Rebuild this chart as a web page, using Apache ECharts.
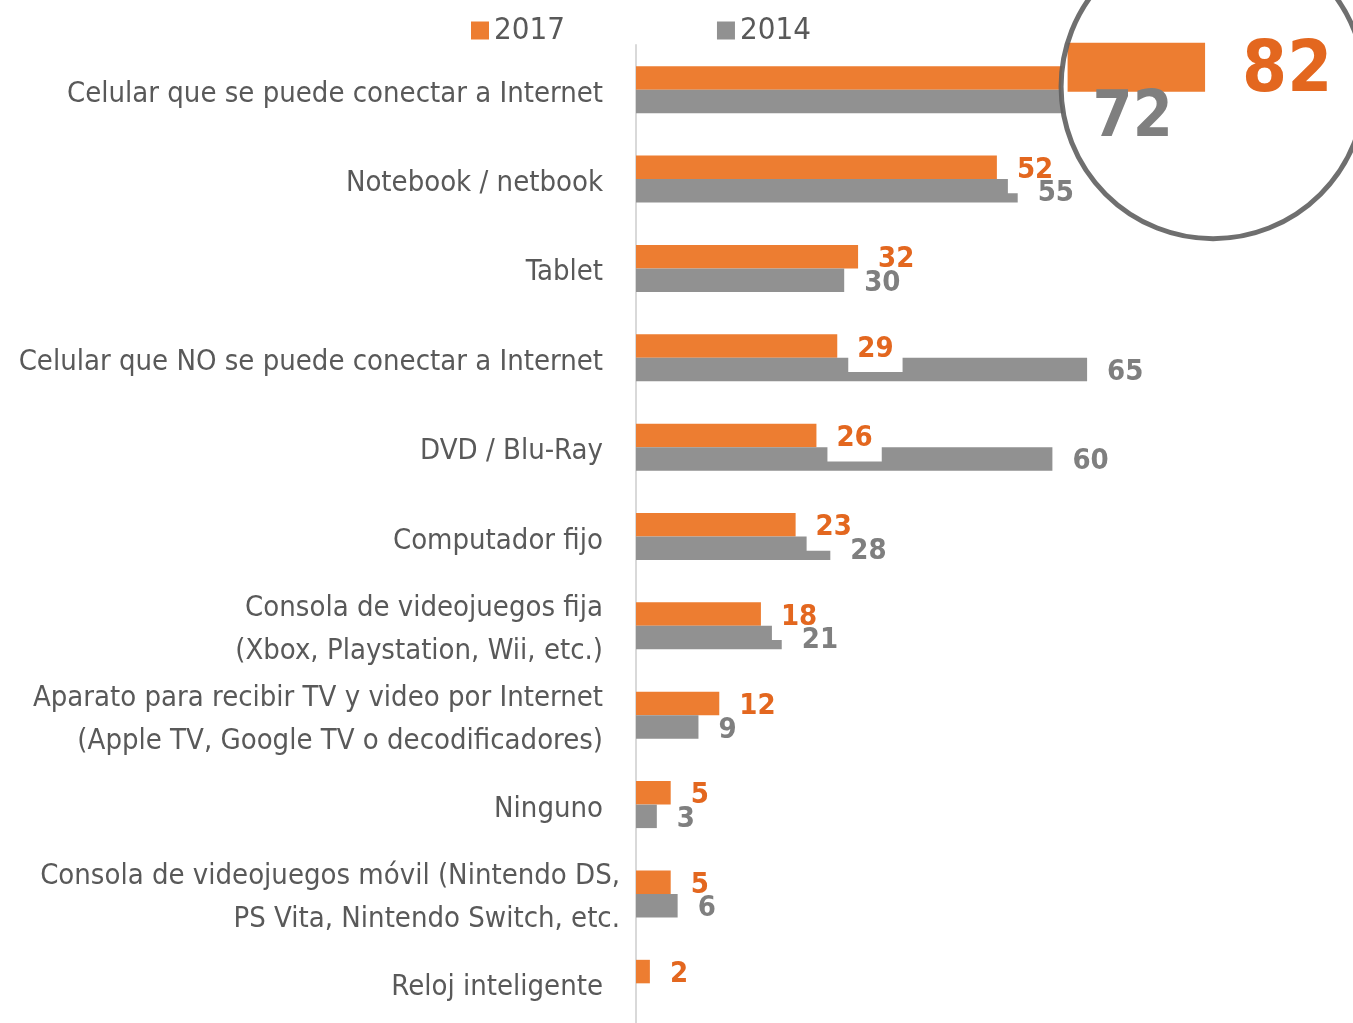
<!DOCTYPE html>
<html>
<head>
<meta charset="utf-8">
<script src="https://cdn.jsdelivr.net/npm/echarts@6/dist/echarts.min.js"></script>
<style>
  html, body { margin: 0; padding: 0; background: #fff; }
  #chart { width: 1353px; height: 1023px; }
</style>
</head>
<body>
<div id="chart"></div>
<script>
// datos
const categories = [
  'Celular que se puede conectar a Internet',
  'Notebook / netbook',
  'Tablet',
  'Celular que NO se puede conectar a Internet',
  'DVD / Blu-Ray',
  'Computador fijo',
  'Consola de videojuegos fija\n(Xbox, Playstation, Wii, etc.)',
  'Aparato para recibir TV y video por Internet\n(Apple TV, Google TV o decodificadores)',
  'Ninguno',
  'Consola de videojuegos móvil (Nintendo DS,\nPS Vita, Nintendo Switch, etc.',
  'Reloj inteligente'
]
const years = ['2017', '2014']
const values2017 = [82, 52, 32, 29, 26, 23, 18, 12, 5, 5, 2]
const values2014 = [72, 55, 30, 65, 60, 28, 21, 9, 3, 6, null]

const narrow = "'Liberation Sans Narrow', 'Arial Narrow', 'DejaVu Sans Condensed', sans-serif"
const orange = '#ED7D31'
const orangeText = '#E3671F'
const grey = '#919191'
const greyText = '#7F7F7F'

const myChart = echarts.init(document.getElementById('chart'))

myChart.setOption({
  backgroundColor: '#fff',
  animation: false,
  legend: {
    data: years,
    left: 466,
    top: 10,
    itemWidth: 18,
    itemHeight: 18,
    itemGap: 152,
    icon: 'rect',
    textStyle: {
      fontFamily: narrow,
      fontSize: 31,
      color: '#595959'
    }
  },
  grid: {
    left: 636,
    right: 23,
    top: 45,
    height: 983,
    outerBoundsMode: 'none'
  },
  xAxis: {
    type: 'value',
    min: 0,
    max: 100,
    show: false
  },
  yAxis: {
    type: 'category',
    inverse: true,
    data: categories,
    axisTick: { show: false },
    axisLine: {
      lineStyle: { color: '#D9D9D9', width: 2 }
    },
    axisLabel: {
      margin: 33,
      padding: [9, 0, 0, 0],
      fontFamily: narrow,
      fontSize: 29,
      lineHeight: 43,
      color: '#595959',
      formatter: function (value) {
        // esta etiqueta sobresale un poco hacia el eje
        if (value === categories[9]) {
          return value.split('\n').map(s => '{m|' + s + '}').join('\n')
        }
        return value
      },
      rich: {
        m: {
          fontFamily: narrow,
          fontSize: 29,
          lineHeight: 43,
          color: '#595959',
          padding: [0, -17, 0, 0]
        }
      }
    }
  },
  series: [
    {
      name: '2017',
      type: 'bar',
      z: 2,
      barWidth: 23.5,
      barGap: '0%',
      itemStyle: { color: orange },
      label: {
        show: true,
        position: 'right',
        distance: 11,
        offset: [0, 3],
        backgroundColor: '#fff',
        padding: [7, 9],
        lineHeight: 32,
        fontFamily: narrow,
        fontSize: 29,
        fontWeight: 'bold',
        color: orangeText
      },
      data: values2017.map((v, i) => i === 0 ? { value: v, label: { show: false } } : v)
    },
    {
      name: '2014',
      type: 'bar',
      z: 2,
      barWidth: 23.5,
      itemStyle: { color: grey },
      label: {
        show: true,
        position: 'right',
        distance: 20,
        offset: [0, 3],
        fontFamily: narrow,
        fontSize: 29,
        fontWeight: 'bold',
        color: greyText
      },
      data: values2014.map((v, i) => i === 0 ? { value: v, label: { show: false } } : v)
    },
    {
      // lupa sobre la primera fila
      type: 'custom',
      z: 3,
      silent: true,
      clip: false,
      encode: { x: 0, y: 2 },
      data: [[values2017[0], values2014[0], 0]],
      renderItem: function (params, api) {
        const cat = api.value(2)
        const end = api.coord([api.value(0), cat])
        const end14 = api.coord([api.value(1), cat])
        const cx = end[0] + 8
        const cy = end[1] - 3
        const r = 152
        const top = cy - 44
        const bottom = cy + 5
        const left = cx - Math.sqrt(r * r - (cy - top) * (cy - top))
        return {
          type: 'group',
          children: [
            { type: 'circle', shape: { cx: cx, cy: cy, r: r }, style: { fill: '#fff' } },
            { type: 'rect', shape: { x: left, y: top, width: end[0] - left, height: bottom - top }, style: { fill: orange } },
            {
              type: 'text',
              style: {
                text: String(api.value(0)), x: end[0] + 37, y: cy - 14,
                verticalAlign: 'middle', fill: orangeText,
                fontFamily: narrow, fontSize: 72, fontWeight: 'bold'
              }
            },
            {
              type: 'text',
              style: {
                text: String(api.value(1)), x: end14[0] - 3, y: cy + 33,
                align: 'center', verticalAlign: 'middle', fill: greyText,
                fontFamily: narrow, fontSize: 64, fontWeight: 'bold'
              }
            },
            { type: 'circle', shape: { cx: cx, cy: cy, r: r }, style: { fill: 'none', stroke: 'rgba(95,95,95,0.9)', lineWidth: 5 } }
          ]
        }
      }
    }
  ]
})

window.addEventListener('resize', () => {
  myChart.resize()
})
</script>
</body>
</html>
